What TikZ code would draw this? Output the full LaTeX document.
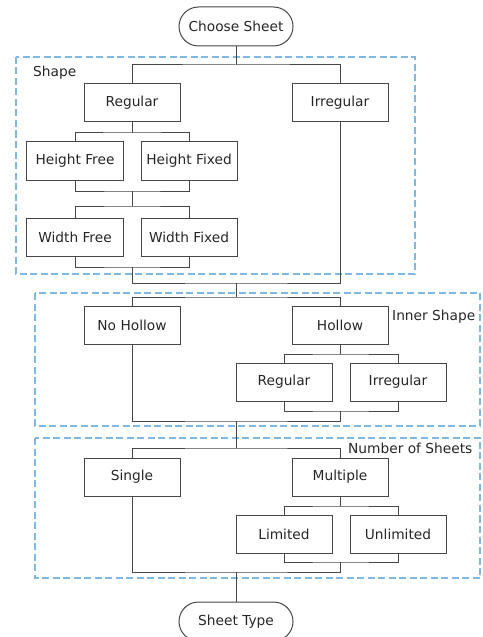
\documentclass[tikz,border=0pt]{standalone}
\usepackage{fontspec}
\setmainfont{DejaVu Sans}
\definecolor{GroupBlue}{RGB}{125,185,228}
\definecolor{LineGray}{RGB}{70,70,70}
\tikzset{
  box/.style={draw=LineGray,line width=1bp,minimum width=96bp,minimum height=38bp,inner sep=0pt},
  term/.style={box,minimum width=114bp,minimum height=39bp,rounded corners=19.5bp},
  group/.style={draw=GroupBlue,line width=1.3bp,dash pattern=on 7bp off 3.5bp},
  grouplabel/.style={anchor=west,inner sep=0pt},
  link/.style={draw=LineGray,line width=1bp}
}
\begin{document}
\begin{tikzpicture}[x=1bp,y=-1bp,font=\fontsize{13.8}{15}\selectfont,text=black!85]
  \useasboundingbox (0,0) rectangle (483,637);
  \clip (0,0) rectangle (483,637);
  % groups
  \draw[group] (16,57) rectangle (415,274);
  \draw[group] (35,293) rectangle (480,426);
  \draw[group] (35,438) rectangle (480,578);
  \node[grouplabel] (lshape) at (33,73) {Shape};
  \node[grouplabel] (linner) at (392,317) {Inner Shape};
  \node[grouplabel] (lsheets) at (348,448) {Number of Sheets};
  % nodes
  \node[term] (choose) at (236,26.5) {Choose Sheet};
  \node[box] (reg) at (132,102.5) {Regular};
  \node[box] (irreg) at (340,102.5) {Irregular};
  \node[box] (hfree) at (75,161) {Height Free};
  \node[box] (hfixed) at (189,161) {Height Fixed};
  \node[box] (wfree) at (75,237) {Width Free};
  \node[box] (wfixed) at (189,237) {Width Fixed};
  \node[box] (nohollow) at (132,325.5) {No Hollow};
  \node[box] (hollow) at (340,325.5) {Hollow};
  \node[box] (ireg) at (284,382) {Regular};
  \node[box] (iirreg) at (398,382) {Irregular};
  \node[box] (single) at (132,477) {Single};
  \node[box] (multiple) at (340,477) {Multiple};
  \node[box] (limited) at (284,534) {Limited};
  \node[box] (unlimited) at (398,534) {Unlimited};
  \node[term] (sheettype) at (236,621.5) {Sheet Type};
  % forks and joins
  \coordinate (shapefork) at (236,65);
  \coordinate (regfork) at (132,133);
  \coordinate (hjoin) at (132,191);
  \coordinate (wfork) at (132,206);
  \coordinate (wjoin) at (132,267);
  \coordinate (shapejoin) at (236,283);
  \coordinate (innerfork) at (236,297);
  \coordinate (hollowfork) at (340,354);
  \coordinate (hollowjoin) at (340,411);
  \coordinate (innerjoin) at (236,421);
  \coordinate (sheetsfork) at (236,448);
  \coordinate (multfork) at (340,506);
  \coordinate (multjoin) at (340,562);
  \coordinate (sheetsjoin) at (236,572);
  % connectors
  \draw[link] (choose.south) -- (shapefork);
  \draw[link] (reg.north) |- (shapefork) -| (irreg.north);
  \draw[link] (reg.south) -- (regfork);
  \draw[link] (hfree.north) |- (regfork) -| (hfixed.north);
  \draw[link] (hfree.south) |- (hjoin) -| (hfixed.south);
  \draw[link] (hjoin) -- (wfork);
  \draw[link] (wfree.north) |- (wfork) -| (wfixed.north);
  \draw[link] (wfree.south) |- (wjoin) -| (wfixed.south);
  \draw[link] (wjoin) |- (shapejoin) -| (irreg.south);
  \draw[link] (shapejoin) -- (innerfork);
  \draw[link] (nohollow.north) |- (innerfork) -| (hollow.north);
  \draw[link] (hollow.south) -- (hollowfork);
  \draw[link] (ireg.north) |- (hollowfork) -| (iirreg.north);
  \draw[link] (ireg.south) |- (hollowjoin) -| (iirreg.south);
  \draw[link] (nohollow.south) |- (innerjoin) -| (hollowjoin);
  \draw[link] (innerjoin) -- (sheetsfork);
  \draw[link] (single.north) |- (sheetsfork) -| (multiple.north);
  \draw[link] (multiple.south) -- (multfork);
  \draw[link] (limited.north) |- (multfork) -| (unlimited.north);
  \draw[link] (limited.south) |- (multjoin) -| (unlimited.south);
  \draw[link] (single.south) |- (sheetsjoin) -| (multjoin);
  \draw[link] (sheetsjoin) -- (sheettype.north);
\end{tikzpicture}
\end{document}
